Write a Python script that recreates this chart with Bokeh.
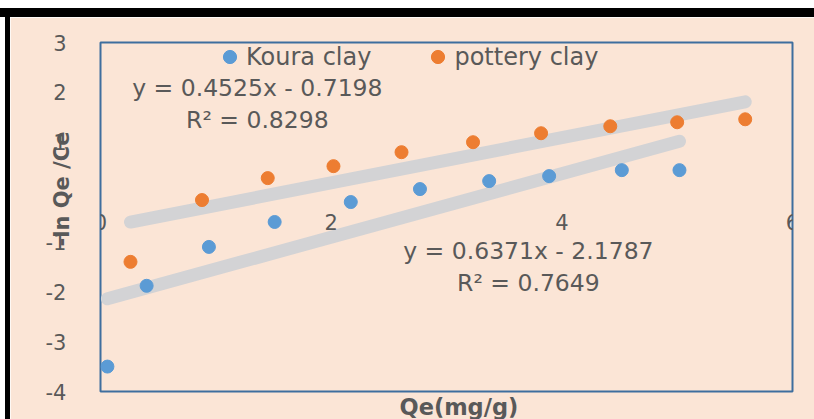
from bokeh.plotting import figure
from bokeh.models import (LinearAxis, FixedTicker, Legend, LegendItem, Label,
                          Title, Div, Spacer)
from bokeh.layouts import column, row
from bokeh.embed import file_html
from bokeh.resources import INLINE

# Adsorption data: Qe (mg/g) against -ln(Qe/Ce)
koura_qe = [0.06, 0.40, 0.94, 1.51, 2.17, 2.77, 3.37, 3.89, 4.52, 5.02]
koura_y = [-3.50, -1.88, -1.10, -0.60, -0.20, 0.06, 0.22, 0.32, 0.44, 0.44]

pottery_qe = [0.26, 0.88, 1.45, 2.02, 2.61, 3.23, 3.82, 4.42, 5.00, 5.59]
pottery_y = [-1.40, -0.16, 0.28, 0.52, 0.80, 1.00, 1.18, 1.32, 1.40, 1.46]

# Linear trendline fits: slope, intercept, R squared
koura_fit = (0.6371, -2.1787, 0.7649)
pottery_fit = (0.4525, -0.7198, 0.8298)

x_ticks = [0, 2, 4, 6]
x_tick_labels = ["0", "2", "4", "6"]
y_ticks = [-4, -3, -2, -1, 0, 1, 2, 3]
y_tick_labels = ["-4", "-3", "-2", "-1", "", "1", "2", "3"]

BG = "#FBE5D6"
TXT = "#595959"
BLUE = "#5B9BD5"
ORANGE = "#ED7D31"
TREND = "#D3D3D5"
FONT = "DejaVu Sans"

p = figure(width=804, height=402, x_range=(0, 6), y_range=(-4, 3),
           output_backend="svg", toolbar_location=None,
           x_axis_location=None, y_axis_location=None,
           min_border_left=90, min_border_right=22,
           min_border_top=25, min_border_bottom=27)
p.background_fill_color = BG
p.border_fill_color = BG
p.outline_line_color = "#3E6E9E"
p.outline_line_width = 2
p.xgrid.visible = False
p.ygrid.visible = False

# horizontal axis crossing at y = 0
xaxis = LinearAxis(fixed_location=0, ticker=FixedTicker(ticks=x_ticks))
xaxis.major_label_overrides = dict(zip(x_ticks, x_tick_labels))
xaxis.axis_line_color = None
xaxis.major_tick_line_color = None
xaxis.minor_tick_line_color = None
xaxis.major_label_standoff = 16
xaxis.major_label_text_font = FONT
xaxis.major_label_text_font_size = "21px"
xaxis.major_label_text_color = TXT
p.add_layout(xaxis, "below")

yaxis = LinearAxis(ticker=FixedTicker(ticks=y_ticks))
yaxis.major_label_overrides = dict(zip(y_ticks, y_tick_labels))
yaxis.axis_line_color = None
yaxis.major_tick_line_color = None
yaxis.minor_tick_line_color = None
yaxis.major_label_standoff = 28
yaxis.major_label_text_font = FONT
yaxis.major_label_text_font_size = "21px"
yaxis.major_label_text_color = TXT
p.add_layout(yaxis, "left")

# axis titles
p.add_layout(Title(text="Qe(mg/g)", align="left", offset=299, standoff=0,
                   text_font=FONT, text_font_size="22.5px",
                   text_font_style="bold", text_color=TXT), "below")
p.add_layout(Title(text="-ln Qe /Ce", align="left", offset=145, standoff=-63,
                   text_font=FONT, text_font_size="21px",
                   text_font_style="bold", text_color=TXT), "left")


def trend(xs, fit):
    lo, hi = min(xs), max(xs)
    m, b, _ = fit
    return [lo, hi], [m * lo + b, m * hi + b]


kx, ky = trend(koura_qe, koura_fit)
p.line(kx, ky, line_width=13, line_color=TREND, line_cap="round")
px_, py_ = trend(pottery_qe, pottery_fit)
p.line(px_, py_, line_width=13, line_color=TREND, line_cap="round")

kou_s = p.scatter(koura_qe, koura_y, size=13, color=BLUE)
pot_s = p.scatter(pottery_qe, pottery_y, size=13, color=ORANGE)

# trendline equations
for fit, x, y in [(pottery_fit, 1.36, 2.08), (koura_fit, 3.71, -1.18)]:
    m, b, r2 = fit
    sign = "-" if b < 0 else "+"
    p.add_layout(Label(x=x, y=y, text=f"y = {m:.4f}x {sign} {abs(b):.4f}",
                       text_align="center", text_baseline="middle",
                       text_font=FONT, text_font_size="23.5px", text_color=TXT))
    p.add_layout(Label(x=x, y=y - 0.64, text=f"R\u00b2 = {r2:.4f}",
                       text_align="center", text_baseline="middle",
                       text_font=FONT, text_font_size="23.5px", text_color=TXT))

legend = Legend(items=[LegendItem(label="Koura clay", renderers=[kou_s]),
                       LegendItem(label="pottery clay", renderers=[pot_s])],
                orientation="horizontal", location=(113, 318),
                glyph_width=33, glyph_height=33, label_standoff=0,
                spacing=50, padding=0, margin=0,
                label_text_font=FONT, label_text_font_size="24px",
                label_text_color=TXT,
                border_line_color=None, background_fill_alpha=0)
p.add_layout(legend, "center")

top_white = Spacer(width=814, height=8, margin=0)
top_black = Div(width=814, height=9, text="", margin=0,
                styles={"background-color": "black"})
left_white = Spacer(width=5, height=402, margin=0)
left_black = Div(width=5, height=402, text="", margin=0,
                 styles={"background-color": "black"})

page = column(top_white, top_black,
              row(left_white, left_black, p, spacing=0, margin=0),
              spacing=0, margin=0)

open("out.html", "w").write(file_html(page, INLINE))
